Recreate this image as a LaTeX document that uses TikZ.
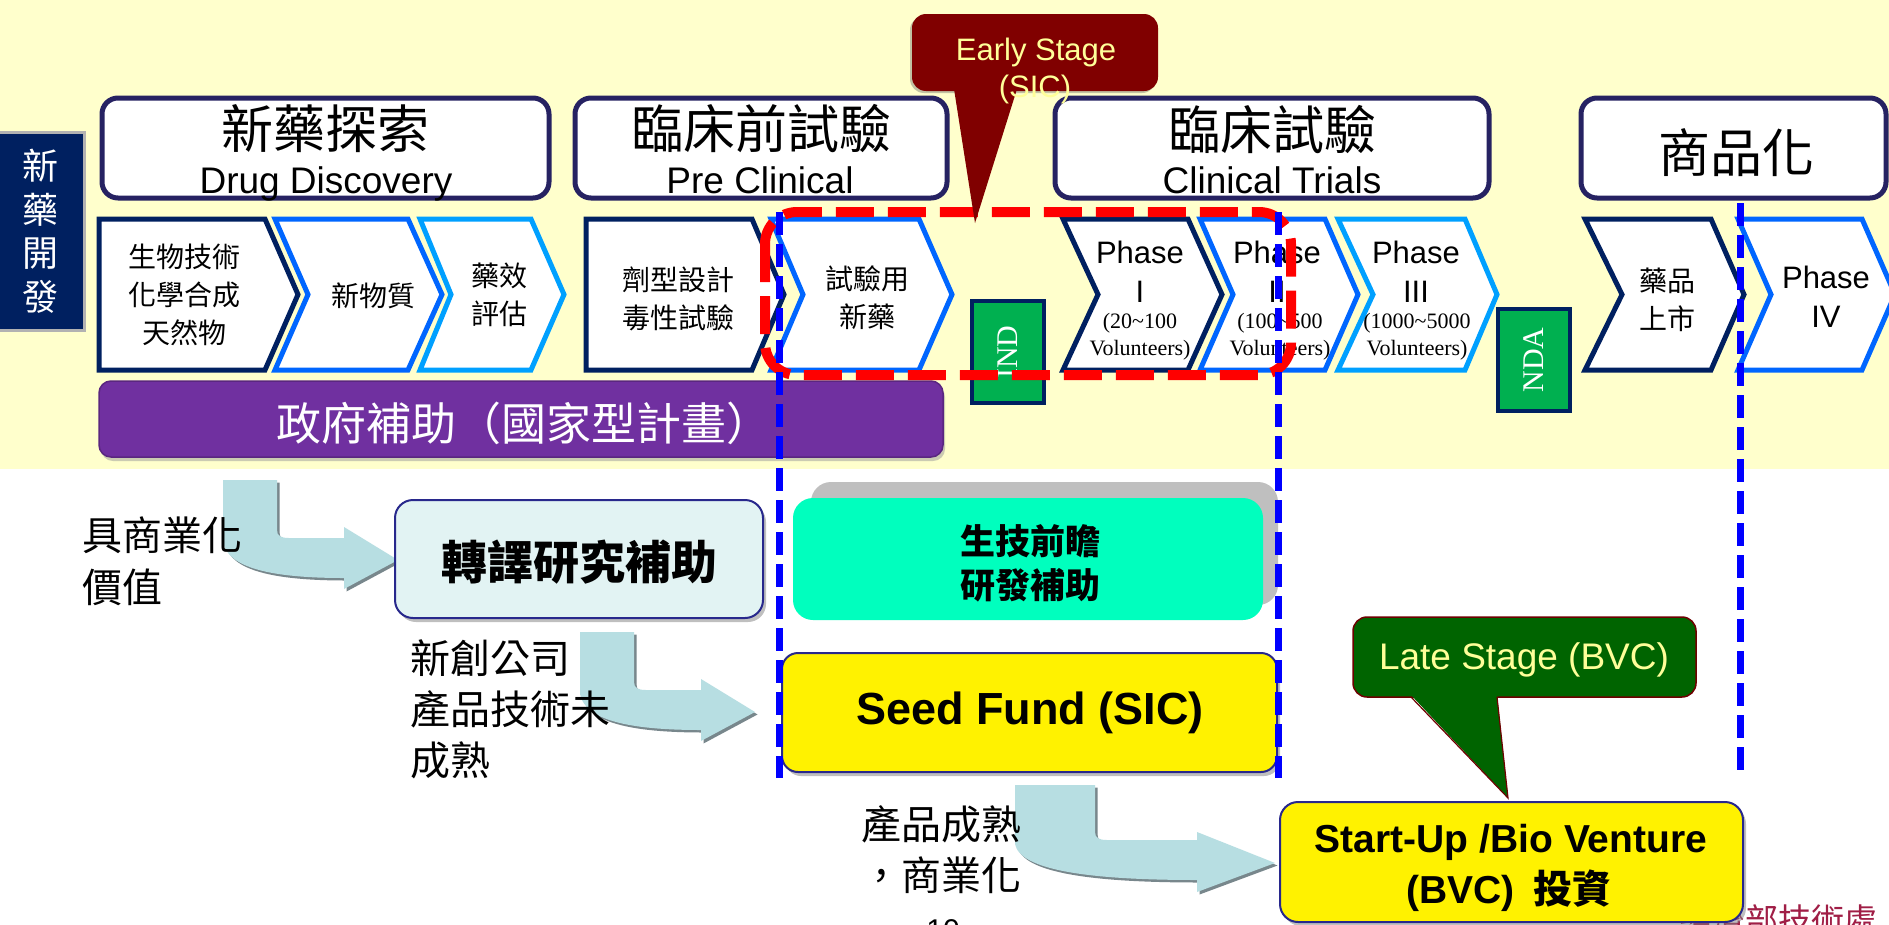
\documentclass[tikz,border=0pt]{standalone}
\usepackage{fontspec}
\setmainfont{Liberation Sans}
\newfontfamily\cjk{Noto Sans CJK TC}
\newfontfamily\ser{Liberation Serif}
\usetikzlibrary{shadows}
\definecolor{bgyel}{RGB}{255,255,204}
\definecolor{navy}{RGB}{0,32,96}
\definecolor{hdr}{RGB}{38,34,98}
\definecolor{blu}{RGB}{0,102,255}
\definecolor{lblu}{RGB}{0,160,255}
\definecolor{purp}{RGB}{112,48,160}
\definecolor{maroonc}{RGB}{128,0,0}
\definecolor{dgreen}{RGB}{0,100,0}
\definecolor{txtyel}{RGB}{255,255,153}
\definecolor{indg}{RGB}{0,176,80}
\definecolor{arrc}{RGB}{183,222,226}
\definecolor{arrsh}{RGB}{120,135,140}
\definecolor{mint}{RGB}{0,255,190}
\definecolor{lcyan}{RGB}{226,243,243}
\definecolor{bordb}{RGB}{40,40,140}
\definecolor{moea}{RGB}{160,30,70}
\definecolor{dred}{RGB}{110,0,0}
\newcommand\fs[2]{\fontsize{#1}{#2}\selectfont}
\newcommand\chevN[5]{\draw[chev=#1] (#2,219) -- (#4,219) -- (#5,294.5) -- (#4,370) -- (#2,370) -- (#3,294.5) -- cycle;}
\newcommand\chevS[4]{\draw[chev=#1] (#2,219) -- (#3,219) -- (#4,294.5) -- (#3,370) -- (#2,370) -- cycle;}
\tikzset{
  pics/bentarr/.style n args={7}{code={
    \fill[arrsh, shift={(2.5,2.5)}] (0,0) -- (#1,0) -- (#1,#2-8) .. controls (#1,#2-2) and (#1+4,#2) .. (#1+12,#2) -- (#3,#2) -- (#3,47) -- (#4,#5) -- (#3,#7) -- (#3,#6) .. controls (#3*0.4,#6) and (5,#6-10) .. (0,#2+4) -- cycle;
    \fill[arrc] (0,0) -- (#1,0) -- (#1,#2-8) .. controls (#1,#2-2) and (#1+4,#2) .. (#1+12,#2) -- (#3,#2) -- (#3,47) -- (#4,#5) -- (#3,#7) -- (#3,#6) .. controls (#3*0.4,#6) and (5,#6-10) .. (0,#2+4) -- cycle;
  }}
}
\begin{document}
\begin{tikzpicture}[x=1pt,y=-1pt,
  every node/.style={inner sep=0pt},
  hdrbox/.style={draw=hdr, line width=5pt, fill=white, rounded corners=16pt},
  chev/.style={draw=#1, line width=5pt, fill=white, line join=miter},
  gbox/.style={draw=navy, line width=4pt, fill=indg, minimum width=72pt, minimum height=102pt},
  bluedash/.style={draw=blue, line width=7pt, dash pattern=on 23pt off 9pt},
  lowbox/.style={draw=bordb, line width=2pt, rounded corners=16pt, drop shadow={shadow xshift=3pt, shadow yshift=-4pt, fill=black!50, opacity=0.5}},
  ctx/.style={font=\cjk\fs{28}{38}, align=center, text=black},
  ptx/.style={font=\fs{31}{39}, align=center},
  vtx/.style={font=\ser\fs{22}{27}, align=center},
  htx/.style={font=\cjk\fs{52}{52}},
  etx/.style={font=\fs{37}{37}, anchor=base},
]
\useasboundingbox (0,0) rectangle (1889,924);
\clip (0,0) rectangle (1889,924);
\fill[white] (0,0) rectangle (1889,924);
\fill[bgyel] (0,0) rectangle (1889,469);

% left label
\node[draw=gray!60, line width=3pt, fill=navy, minimum width=86pt, minimum height=198pt, text=white, align=center, font=\cjk\fs{36}{43.5}] (dev) at (41,231) {新\\藥\\開\\發};

% header boxes
\node[hdrbox, minimum width=447pt, minimum height=100pt] (h1) at (325.5,148) {};
\node[hdrbox, minimum width=372pt, minimum height=100pt] (h2) at (761,148) {};
\node[hdrbox, minimum width=434pt, minimum height=100pt] (h3) at (1272,148) {};
\node[hdrbox, minimum width=305pt, minimum height=100pt] (h4) at (1733.5,148) {};
\node[htx] (h1a) at (325,129) {新藥探索};
\node[etx] (h1b) at (326,193) {Drug Discovery};
\node[htx] (h2a) at (761,129) {臨床前試驗};
\node[etx] (h2b) at (760,193) {Pre Clinical};
\node[htx] (h3a) at (1272,130) {臨床試驗};
\node[etx] (h3b) at (1272,193) {Clinical Trials};
\node[htx] (h4a) at (1736,153) {商品化};

% chevrons
\chevS{navy}{99}{265}{298}
\chevN{blu}{275}{308}{408}{442}
\chevN{lblu}{420}{451}{531}{564}
\chevS{navy}{586}{752}{784}
\chevN{blu}{771}{803}{919}{952}
\chevN{navy}{1063}{1098}{1188}{1222}
\chevN{blu}{1200}{1233}{1325}{1358}
\chevN{lblu}{1338}{1373}{1465}{1497}
\chevN{navy}{1585}{1622}{1711}{1744}
\chevN{blu}{1738}{1771}{1862}{1895}

\node[ctx] (c1) at (184,295) {生物技術\\化學合成\\天然物};
\node[ctx] (c2) at (373,296) {新物質};
\node[ctx] (c3) at (499,295) {藥效\\評估};
\node[ctx] (c4) at (678,299) {劑型設計\\毒性試驗};
\node[ctx] (c5) at (867,298) {試驗用\\新藥};
\node[ptx] (p1) at (1140,272) {Phase\\I};
\node[vtx] (p1v) at (1140,337) {(20\textasciitilde100\\Volunteers)};
\node[ptx] (p2) at (1277,272) {Phase\\II};
\node[vtx] (p2v) at (1280,337) {(100\textasciitilde500\\Volunteers)};
\node[ptx] (p3) at (1416,272) {Phase\\III};
\node[vtx] (p3v) at (1417,337) {(1000\textasciitilde5000\\Volunteers)};
\node[ctx] (c9) at (1667,300) {藥品\\上市};
\node[ptx] (p4) at (1826,297) {Phase\\IV};

% IND / NDA
\node[gbox] (ind) at (1008,352) {};
\node[rotate=90, text=white, font=\ser\fs{30}{30}] (indt) at (ind) {IND};
\node[gbox] (nda) at (1534,360) {};
\node[rotate=90, text=white, font=\ser\fs{30}{30}] (ndat) at (nda) {NDA};

% government bar
\node[fill=purp, draw=purp!80!black, line width=1.5pt, rounded corners=12pt, minimum width=844pt, minimum height=76pt, drop shadow={shadow xshift=2pt, shadow yshift=-4pt, fill=black!40, opacity=0.5}] (gov) at (521,419) {};
\node[text=white, font=\cjk\fs{45}{45}] (govt) at (524,423) {政府補助（國家型計畫）};

% red dashed early-stage frame
\draw[red, line width=10pt, dash pattern=on 38pt off 14pt, rounded corners=32pt] (765,212) rectangle (1291,375);

% blue dashed lines
\coordinate (b1t) at (779,212); \coordinate (b1b) at (779,778);
\coordinate (b2t) at (1278,212); \coordinate (b2b) at (1278,778);
\coordinate (b3t) at (1740,203); \coordinate (b3b) at (1740,771);

% early stage callout
\node[fill=maroonc, rounded corners=14pt, minimum width=246pt, minimum height=77pt, drop shadow={shadow xshift=-2pt, shadow yshift=-2pt, fill=black!60, opacity=0.4}] (es) at (1035,52.5) {};
\fill[maroonc] (954,89) -- (975,223) -- (1017,89) -- cycle;
\node[anchor=base, text=txtyel, font=\fs{31}{31}] (es1) at (1036,60) {Early Stage};
\node[anchor=base, text=txtyel, font=\fs{31}{31}] (es2) at (1035,97) {(SIC)};

% arrows
\pic at (223,480) {bentarr={54}{58}{121}{175}{80}{98}{109}};
\pic at (580,632) {bentarr={54}{58}{121}{175}{80}{98}{109}};
\pic at (1015,785) {bentarr={80}{55}{182}{260}{78}{95}{107}};

% lower boxes
\node[lowbox, fill=lcyan, rounded corners=18pt, minimum width=368pt, minimum height=118pt] (tr) at (579,559) {};
\node[font=\cjk\bfseries\fs{46}{46}] (trt) at (579,562) {轉譯研究補助};
\node[fill=black!25, rounded corners=20pt, minimum width=467pt, minimum height=123pt] (gsh) at (1044.5,543.5) {};
\node[fill=mint, rounded corners=20pt, minimum width=470pt, minimum height=122pt] (gb) at (1028,559) {};
\node[font=\cjk\bfseries\fs{35}{44}, align=center] (gbt) at (1030,563) {生技前瞻\\研發補助};
\node[lowbox, fill=yellow, minimum width=495pt, minimum height=119pt] (seed) at (1029.5,712.5) {};
\node[font=\bfseries\fs{45}{45}] (seedt) at (1030,713) {Seed Fund (SIC)};

\draw[bluedash] (b1t) -- (b1b);
\draw[bluedash] (b2t) -- (b2b);
\draw[bluedash] (b3t) -- (b3b);

% side texts
\node[anchor=west, align=left, font=\cjk\fs{40}{52}] (t1) at (82,561) {具商業化\\價值};
\node[anchor=west, align=left, font=\cjk\fs{40}{51}] (t2) at (410,709) {新創公司\\產品技術未\\成熟};
\node[anchor=west, align=left, font=\cjk\fs{40}{51}] (t3) at (861,850) {產品成熟\\，商業化};

% clipped footer texts
\node[anchor=base, font=\fs{30}{30}] (pg) at (943,940) {10};
\node[anchor=base east, text=moea, font=\cjk\fs{33}{33}] (moe) at (1878,932) {經濟部技術處};

% late stage callout
\node[fill=dgreen, draw=dred, line width=1.5pt, rounded corners=14pt, minimum width=343pt, minimum height=80pt] (ls) at (1524.5,657) {};
\fill[dgreen] (1411,695) -- (1508,798) -- (1497,695) -- cycle;
\draw[dred, line width=1.2pt] (1411,697) -- (1508,798) -- (1497,697);
\node[anchor=base, text=txtyel, font=\fs{37}{37}] (lst) at (1524,669) {Late Stage (BVC)};

% BVC box
\node[lowbox, fill=yellow, rounded corners=18pt, minimum width=463pt, minimum height=120pt] (bvc) at (1511.5,862) {};
\node[anchor=base, font=\bfseries\fs{39}{39}] (bvc1) at (1511,852) {Start-Up /Bio Venture};
\node[anchor=base, font=\bfseries\fs{39}{39}] (bvc2) at (1509,903) {(BVC)\enspace{\cjk\bfseries 投資}};
\end{tikzpicture}
\end{document}
